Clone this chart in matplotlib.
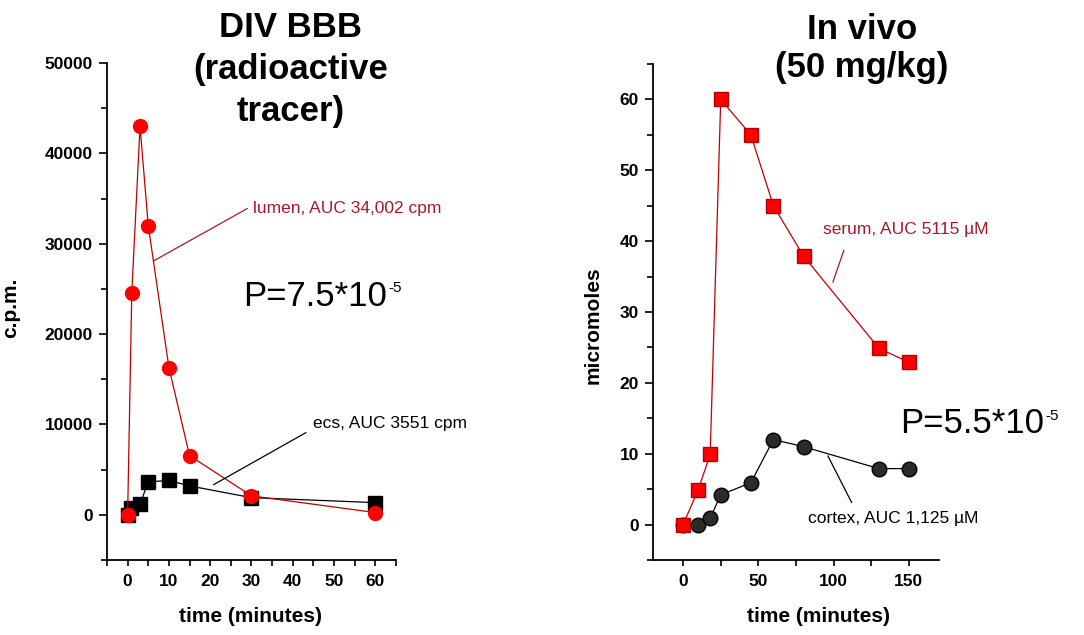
import matplotlib
matplotlib.use("Agg")
import matplotlib.pyplot as plt
from matplotlib.ticker import MultipleLocator

plt.rcParams['font.family'] = ['Liberation Sans', 'DejaVu Sans']

# DIV BBB (radioactive tracer), c.p.m.
bbb_time = [0, 1, 3, 5, 10, 15, 30, 60]
lumen_cpm = [0, 24500, 43000, 32000, 16300, 6550, 2100, 250]
ecs_time = [0, 0.7, 3, 5, 10, 15, 30, 60]
ecs_cpm = [0, 750, 1200, 3650, 3800, 3200, 1900, 1350]

# In vivo (50 mg/kg), micromoles
vivo_time = [0, 10, 18, 25, 45, 60, 80, 130, 150]
serum_um = [0, 4.9, 9.9, 60, 55, 45, 37.9, 24.9, 22.9]
cortex_um = [0, 0, 0.9, 4.2, 5.9, 12, 11, 7.9, 7.9]

red = '#ff0000'
dark_red = '#c00000'
text_red = '#a8182a'


def style_axes(ax):
    for s in ['top', 'right']:
        ax.spines[s].set_visible(False)
    for s in ['left', 'bottom']:
        ax.spines[s].set_linewidth(1.3)
    ax.tick_params(which='major', direction='out', length=6, width=1.2,
                   labelsize=12.5, pad=4)
    ax.tick_params(which='minor', direction='out', length=4, width=1.2)
    ax.tick_params(axis='x', which='major', length=4, pad=6)
    for lab in ax.get_xticklabels() + ax.get_yticklabels():
        lab.set_fontweight('bold')


def leader(ax, start, end, color):
    ax.annotate('', xy=end, xytext=start,
                arrowprops=dict(arrowstyle='-', color=color, lw=0.9,
                                shrinkA=0, shrinkB=0))


def p_value(ax, x, y, base, exp):
    t = ax.text(x, y, base, fontsize=25, clip_on=False)
    ax.annotate(exp, xy=(1, 1), xycoords=t, xytext=(1, -1),
                textcoords='offset points', fontsize=11, va='top',
                annotation_clip=False)


fig = plt.figure(figsize=(10.84, 6.35), dpi=100)

# ---- left panel
ax1 = fig.add_axes([0.0987, 0.1181, 0.2666, 0.7827])
ax1.plot(ecs_time, ecs_cpm, color='black', lw=0.9, marker='s', ms=9.5,
         mfc='black', mec='black', zorder=2)
ax1.plot(bbb_time, lumen_cpm, color=dark_red, lw=0.9, marker='o', ms=10,
         mfc=red, mec=red, zorder=3)
ax1.set_xlim(-5, 65)
ax1.set_ylim(-5000, 50000)
ax1.xaxis.set_minor_locator(MultipleLocator(5))
ax1.yaxis.set_minor_locator(MultipleLocator(5000))
ax1.set_yticks([0, 10000, 20000, 30000, 40000, 50000])
ax1.set_xticks([0, 10, 20, 30, 40, 50, 60])
style_axes(ax1)
ax1.set_xlabel('time (minutes)', fontsize=15, fontweight='bold')
ax1.set_ylabel('c.p.m.', fontsize=15, fontweight='bold')
ax1.xaxis.set_label_coords(0.495, -0.095)
ax1.yaxis.set_label_coords(-0.30, 0.507)
fig.text(0.268, 0.982, 'DIV BBB\n(radioactive\ntracer)', fontsize=25,
         fontweight='bold', ha='center', va='top', linespacing=1.34)

ax1.text(30.4, 33900, 'lumen, AUC 34,002 cpm', fontsize=12.5,
         color=text_red, va='center')
leader(ax1, (29, 33900), (6.3, 28100), text_red)
ax1.text(44.9, 10100, 'ecs, AUC 3551 cpm', fontsize=12.5, color='black',
         va='center')
leader(ax1, (43.2, 9100), (20.8, 3330), 'black')
p_value(ax1, 28, 23100, 'P=7.5*10', '-5')

# ---- right panel
ax2 = fig.add_axes([0.6024, 0.1181, 0.2638, 0.7811])
ax2.plot(vivo_time, serum_um, color=dark_red, lw=0.9, marker='s', ms=10,
         mfc=red, mec='#b00000', zorder=3)
ax2.plot(vivo_time, cortex_um, color='black', lw=0.9, marker='o', ms=10.5,
         mfc='#2b2b2b', mec='black', zorder=2)
ax2.set_xlim(-20, 170)
ax2.set_ylim(-5, 65)
ax2.xaxis.set_minor_locator(MultipleLocator(25))
ax2.yaxis.set_minor_locator(MultipleLocator(5))
ax2.set_xticks([0, 50, 100, 150])
ax2.set_yticks([0, 10, 20, 30, 40, 50, 60])
style_axes(ax2)
ax2.set_xlabel('time (minutes)', fontsize=15, fontweight='bold')
ax2.set_ylabel('micromoles', fontsize=15, fontweight='bold')
ax2.xaxis.set_label_coords(0.577, -0.095)
ax2.yaxis.set_label_coords(-0.175, 0.474)
fig.text(0.795, 0.98, 'In vivo\n(50 mg/kg)', fontsize=25,
         fontweight='bold', ha='center', va='top', linespacing=1.2)

ax2.text(92.8, 41.7, 'serum, AUC 5115 \u00b5M', fontsize=12.5,
         color=text_red, va='center')
leader(ax2, (106.8, 38.7), (99.5, 34.2), text_red)
ax2.text(82.9, 0.85, 'cortex, AUC 1,125 \u00b5M', fontsize=12.5,
         color='black', va='center')
leader(ax2, (112, 3.1), (96.2, 9.7), 'black')
p_value(ax2, 144, 12.9, 'P=5.5*10', '-5')

fig.savefig('out.png', dpi=100)
